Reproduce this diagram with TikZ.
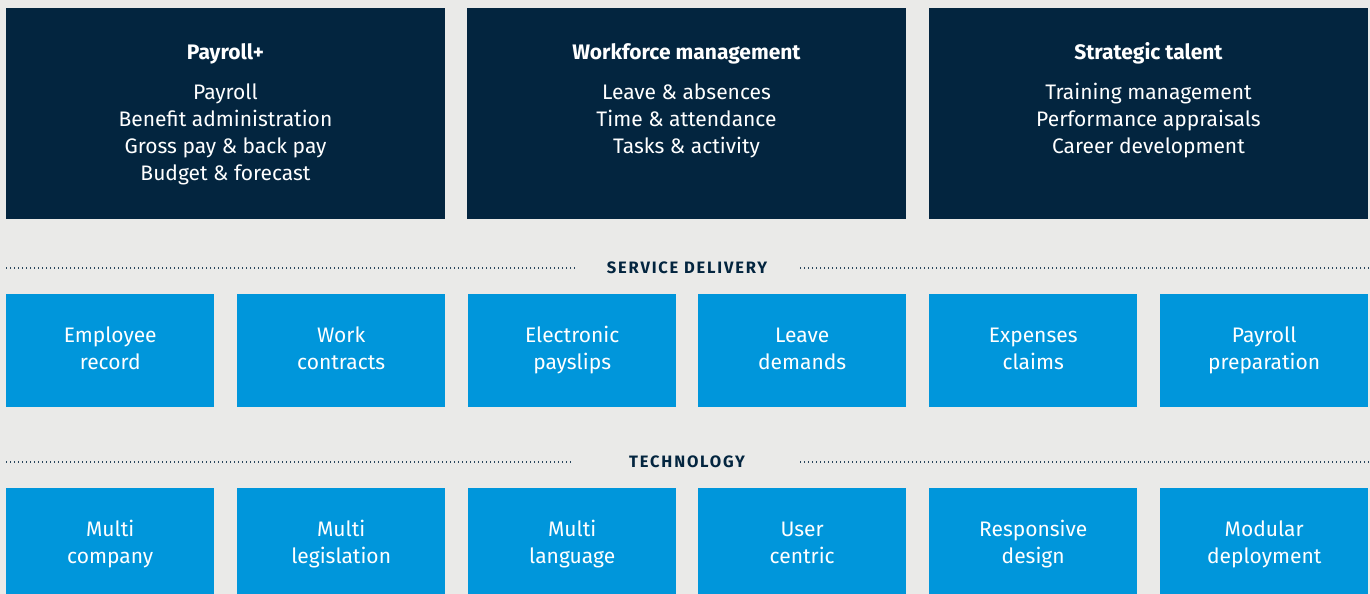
\documentclass[tikz,border=0pt]{standalone}
\usepackage{fontspec}
\setmainfont{Fira Sans}
\definecolor{bg}{HTML}{EAEAE8}
\definecolor{navy}{HTML}{03253F}
\definecolor{sky}{HTML}{0096DB}
\begin{document}
\begin{tikzpicture}[x=1pt,y=-1pt,
 darkbox/.style={fill=navy, draw=none, minimum width=439pt, minimum height=211pt, anchor=north west, inner sep=0pt},
 bluebox/.style={fill=sky, text=white, minimum width=208pt, minimum height=113pt, anchor=north west, align=center, inner sep=0pt, font=\fontsize{21}{27}\selectfont},
 techbox/.style={bluebox},
 darktext/.style={text=white, anchor=north, align=center, inner sep=0pt, font=\fontsize{21}{27}\selectfont},
 sectionlabel/.style={text=navy, inner sep=0pt, font=\fontsize{16.5}{18}\selectfont\bfseries\addfontfeature{LetterSpace=11}},
 dotline/.style={draw=navy!85, line width=1.2pt, dash pattern=on 1.2pt off 2.8pt}]
\fill[bg] (0,0) rectangle (1370,594);
\useasboundingbox (0,0) rectangle (1370,594);

% top dark boxes
\node[darkbox] (payroll) at (6,8) {};
\node[darkbox] (workforce) at (467,8) {};
\node[darkbox] (talent) at (929,8) {};
\node[darktext] (payrolltxt) at (225.5,40) {\strut\textbf{Payroll+}\\[13pt]Payroll\\Benefit administration\\Gross pay \& back pay\\Budget \& forecast};
\node[darktext] (workforcetxt) at (686.5,40) {\strut\textbf{Workforce management}\\[13pt]Leave \& absences\\Time \& attendance\\Tasks \& activity};
\node[darktext] (talenttxt) at (1148.5,40) {\strut\textbf{Strategic talent}\\[13pt]Training management\\Performance appraisals\\Career development};

% service delivery separator
\node[sectionlabel] (sdlabel) at (687,268) {SERVICE DELIVERY};
\coordinate (sdL1) at (6,268);
\coordinate (sdL2) at (575,268);
\coordinate (sdR1) at (800,268);
\coordinate (sdR2) at (1370,268);
\draw[dotline] (sdL1) -- (sdL2);
\draw[dotline] (sdR1) -- (sdR2);

% service delivery boxes
\node[bluebox] (s1) at (6,294) {\strut Employee\\\strut record};
\node[bluebox] (s2) at (237,294) {\strut Work\\\strut contracts};
\node[bluebox] (s3) at (468,294) {\strut Electronic\\\strut payslips};
\node[bluebox] (s4) at (698,294) {\strut Leave\\\strut demands};
\node[bluebox] (s5) at (929,294) {\strut Expenses\\\strut claims};
\node[bluebox] (s6) at (1160,294) {\strut Payroll\\\strut preparation};

% technology separator
\node[sectionlabel] (techlabel) at (687,462) {TECHNOLOGY};
\coordinate (tL1) at (6,462);
\coordinate (tL2) at (573,462);
\coordinate (tR1) at (800,462);
\coordinate (tR2) at (1370,462);
\draw[dotline] (tL1) -- (tL2);
\draw[dotline] (tR1) -- (tR2);

% technology boxes
\node[techbox] (t1) at (6,488) {\strut Multi\\\strut company};
\node[techbox] (t2) at (237,488) {\strut Multi\\\strut legislation};
\node[techbox] (t3) at (468,488) {\strut Multi\\\strut language};
\node[techbox] (t4) at (698,488) {\strut User\\\strut centric};
\node[techbox] (t5) at (929,488) {\strut Responsive\\\strut design};
\node[techbox] (t6) at (1160,488) {\strut Modular\\\strut deployment};
\end{tikzpicture}
\end{document}
